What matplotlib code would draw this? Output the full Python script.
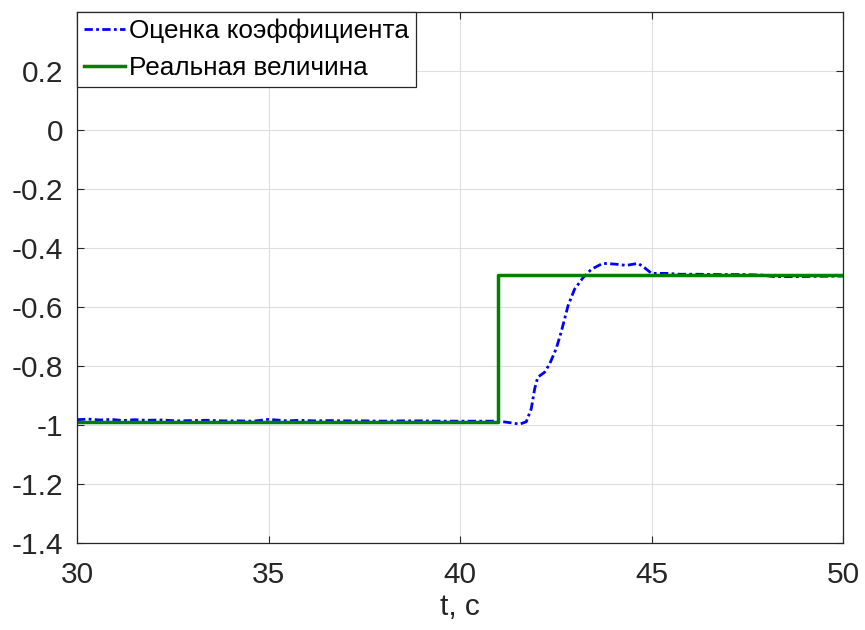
import matplotlib
matplotlib.use("Agg")
import matplotlib.pyplot as plt
from matplotlib.ticker import FuncFormatter

plt.rcParams['font.family'] = ['Liberation Sans', 'DejaVu Sans']

# Estimated coefficient (blue dash-dot)
t_est = [30.0, 30.3, 30.6, 30.9, 31.2, 31.5, 31.8, 32.2, 32.6, 33.0, 33.4, 33.8,
         34.2, 34.6, 35.0, 35.2, 35.5, 35.8, 36.2, 36.6, 37.0, 37.5, 38.0, 38.5,
         39.0, 39.5, 40.0, 40.5, 41.0, 41.3, 41.56, 41.73, 41.86, 41.95, 42.03,
         42.21, 42.34, 42.51, 42.64, 42.82, 42.99, 43.21, 43.43, 43.73, 44.08,
         44.34, 44.65, 44.82, 45.0, 45.39, 45.74, 46.2, 46.8, 47.4, 47.9, 48.2,
         48.8, 49.4, 50.0]
v_est = [-0.982, -0.980, -0.983, -0.981, -0.985, -0.982, -0.984, -0.983, -0.986,
         -0.985, -0.984, -0.986, -0.986, -0.987, -0.981, -0.983, -0.986, -0.984,
         -0.986, -0.985, -0.986, -0.986, -0.987, -0.986, -0.986, -0.987, -0.987,
         -0.987, -0.987, -0.992, -0.997, -0.989, -0.945, -0.877, -0.838, -0.821,
         -0.793, -0.742, -0.686, -0.596, -0.540, -0.501, -0.472, -0.452, -0.455,
         -0.459, -0.452, -0.467, -0.486, -0.486, -0.489, -0.489, -0.490, -0.490,
         -0.492, -0.497, -0.497, -0.496, -0.495]

# Real value (green step)
t_real = [30.0, 41.0, 41.0, 50.0]
v_real = [-0.99, -0.99, -0.49, -0.49]

x_ticks = [30, 35, 40, 45, 50]
y_ticks = [-1.4, -1.2, -1.0, -0.8, -0.6, -0.4, -0.2, 0.0, 0.2]

fig = plt.figure(figsize=(8.65, 6.3), dpi=100)
ax = fig.add_axes([77/865, 1-543/630, (843-77)/865, (543-12)/630])

ax.plot(t_est, v_est, color='#0000ff', linestyle=(0, (3, 1.2, 1, 1.2)), linewidth=2.0,
        label='Оценка коэффициента')
ax.plot(t_real, v_real, color='#007f00', linestyle='-', linewidth=2.5,
        label='Реальная величина')

ax.set_xlim(30, 50)
ax.set_ylim(-1.4, 0.4)
ax.set_xticks(x_ticks)
ax.set_yticks(y_ticks)

def fmt(v, pos):
    s = ('%.1f' % v).rstrip('0').rstrip('.')
    if s in ('-0', ''):
        s = '0'
    return s

ax.yaxis.set_major_formatter(FuncFormatter(fmt))
ax.tick_params(direction='in', labelsize=21.5, length=5, width=0.8, colors='#262626',
               top=True, right=True)
ax.tick_params(axis='x', pad=13)
ax.tick_params(axis='y', pad=10)
ax.grid(True, color='#dedede', linewidth=0.8)
for sp in ax.spines.values():
    sp.set_color('#262626')
    sp.set_linewidth(0.9)

ax.set_xlabel('t, c', fontsize=21.5, labelpad=3, color='#262626')

leg = ax.legend(loc='upper left', fontsize=18.8, handlelength=1.6, handletextpad=0.15,
                borderaxespad=0.0, borderpad=0.25, labelspacing=0.5,
                fancybox=False, framealpha=1.0, edgecolor='#262626')
leg.get_frame().set_linewidth(0.9)

fig.savefig('out.png', dpi=100)
